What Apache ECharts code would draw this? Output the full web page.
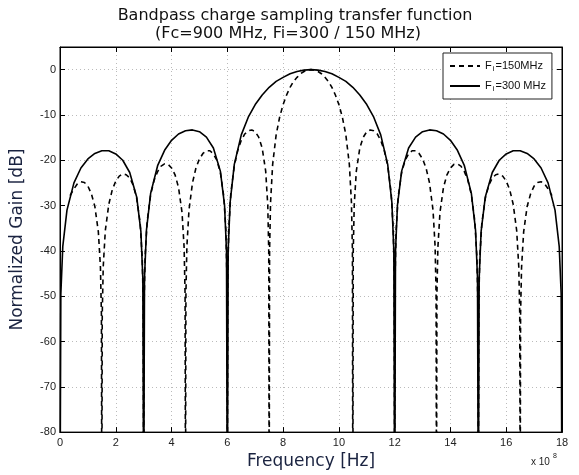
<!DOCTYPE html>
<html>
<head>
<meta charset="utf-8">
<script src="https://cdn.jsdelivr.net/npm/echarts@6/dist/echarts.min.js"></script>
<style>html,body{margin:0;padding:0;background:#fff;}#c{width:579px;height:475px;}</style>
</head>
<body>
<div id="c"></div>
<script>
// Frequency in units of 1e8 Hz, gain in dB
var xTicks = [0, 2, 4, 6, 8, 10, 12, 14, 16, 18];
var yTicks = [-80, -70, -60, -50, -40, -30, -20, -10, 0];

var freqSolid = [0,0.03,0.1,0.25,0.5,0.75,1,1.25,1.5,1.75,2,2.25,2.5,2.75,2.9,2.97,3,3.03,3.1,3.25,3.5,3.75,4,4.25,4.5,4.75,5,5.25,5.5,5.75,5.9,5.97,6,6.03,6.1,6.25,6.5,6.75,7,7.25,7.5,7.75,8,8.25,8.5,8.75,9,
  9.25,9.5,9.75,10,10.25,10.5,10.75,11,11.25,11.5,11.75,11.9,11.97,12,12.03,12.1,12.25,12.5,12.75,13,13.25,13.5,13.75,14,14.25,14.5,14.75,14.9,14.97,15,15.03,15.1,15.25,15.5,15.75,16,16.25,16.5,16.75,17,17.25,17.5,17.75,17.9,17.97,18];
var gainSolid = [-100,-49.5,-39.0,-31.0,-25.0,-21.7,-19.7,-18.5,-17.9,-17.9,-18.6,-20.0,-22.7,-28.1,-35.7,-46.1,-100,-46.0,-35.4,-27.3,-21.2,-17.8,-15.6,-14.2,-13.5,-13.3,-13.7,-14.9,-17.3,-22.4,-29.9,-40.1,-100,-39.9,-29.3,-20.9,-14.4,-10.5,-7.7,-5.6,-3.9,-2.6,-1.7,-0.9,-0.4,-0.1,0,
  -0.1,-0.4,-0.9,-1.7,-2.6,-3.9,-5.6,-7.7,-10.5,-14.4,-20.9,-29.3,-39.9,-100,-40.1,-29.9,-22.4,-17.3,-14.9,-13.7,-13.3,-13.5,-14.2,-15.6,-17.8,-21.2,-27.3,-35.4,-46.0,-100,-46.1,-35.7,-28.1,-22.7,-20.0,-18.6,-17.9,-17.9,-18.5,-19.7,-21.7,-25.0,-31.0,-39.0,-49.5,-100];

var freqDashed = [0.36,0.5,0.625,0.75,0.875,1,1.125,1.25,1.375,1.45,1.485,1.5,
  1.515,1.55,1.625,1.75,1.875,2,2.125,2.25,2.375,2.5,2.625,2.75,2.875,2.95,2.985,3,
  3.015,3.05,3.125,3.25,3.375,3.5,3.625,3.75,3.875,4,4.125,4.25,4.375,4.45,4.485,4.5,
  4.515,4.55,4.625,4.75,4.875,5,5.125,5.25,5.375,5.5,5.625,5.75,5.875,5.95,5.985,6,
  6.015,6.05,6.125,6.25,6.375,6.5,6.625,6.75,6.875,7,7.125,7.25,7.375,7.45,7.485,7.5,
  7.515,7.55,7.625,7.75,7.875,8,8.125,8.25,8.375,8.5,8.625,8.75,8.875,9,
  9.125,9.25,9.375,9.5,9.625,9.75,9.875,10,10.125,10.25,10.375,10.45,10.485,10.5,
  10.515,10.55,10.625,10.75,10.875,11,11.125,11.25,11.375,11.5,11.625,11.75,11.875,11.95,11.985,12,
  12.015,12.05,12.125,12.25,12.375,12.5,12.625,12.75,12.875,13,13.125,13.25,13.375,13.45,13.485,13.5,
  13.515,13.55,13.625,13.75,13.875,14,14.125,14.25,14.375,14.5,14.625,14.75,14.875,14.95,14.985,15,
  15.015,15.05,15.125,15.25,15.375,15.5,15.625,15.75,15.875,16,16.125,16.25,16.375,16.45,16.485,16.5,
  16.515,16.55,16.625,16.75,16.875,17,17.125,17.25,17.375,17.5,17.64];
var gainDashed = [-27.8,-26.3,-25.2,-24.75,-24.9,-25.7,-27.4,-30.2,-35.8,-43.6,-54.0,-100,
  -54.0,-43.5,-35.5,-29.7,-26.5,-24.6,-23.5,-23.0,-23.2,-23.9,-25.5,-28.4,-33.9,-41.7,-52.1,-100,
  -52.0,-41.5,-33.5,-27.6,-24.4,-22.5,-21.3,-20.8,-20.9,-21.7,-23.2,-26.0,-31.5,-39.2,-49.6,-100,
  -49.5,-39.0,-31.0,-25.0,-21.7,-19.7,-18.5,-17.9,-17.9,-18.6,-20.0,-22.7,-28.1,-35.7,-46.1,-100,
  -46.0,-35.4,-27.3,-21.2,-17.8,-15.6,-14.2,-13.5,-13.3,-13.7,-14.9,-17.3,-22.4,-29.9,-40.1,-100,
  -39.9,-29.3,-20.9,-14.4,-10.5,-7.7,-5.6,-3.9,-2.6,-1.7,-0.9,-0.4,-0.1,0,
  -0.1,-0.4,-0.9,-1.7,-2.6,-3.9,-5.6,-7.7,-10.5,-14.4,-20.9,-29.3,-39.9,-100,
  -40.1,-29.9,-22.4,-17.3,-14.9,-13.7,-13.3,-13.5,-14.2,-15.6,-17.8,-21.2,-27.3,-35.4,-46.0,-100,
  -46.1,-35.7,-28.1,-22.7,-20.0,-18.6,-17.9,-17.9,-18.5,-19.7,-21.7,-25.0,-31.0,-39.0,-49.5,-100,
  -49.6,-39.2,-31.5,-26.0,-23.2,-21.7,-20.9,-20.8,-21.3,-22.5,-24.4,-27.6,-33.5,-41.5,-52.0,-100,
  -52.1,-41.7,-33.9,-28.4,-25.5,-23.9,-23.2,-23.0,-23.5,-24.6,-26.5,-29.7,-35.5,-43.5,-54.0,-100,
  -54.0,-43.6,-35.8,-30.2,-27.4,-25.7,-24.9,-24.75,-25.2,-26.3,-27.8];

var seriesNames = ['Fi=150MHz', 'Fi=300 MHz'];

function pairs(xs, ys) {
  var out = [];
  var n = Math.min(xs.length, ys.length);
  for (var i = 0; i < n; i++) out.push([xs[i], ys[i]]);
  return out;
}

var chart = echarts.init(document.getElementById('c'), null, {renderer: 'canvas'});
var labelFont = {fontFamily: 'Liberation Sans', fontSize: 11, color: '#222'};
var nameFont = {fontFamily: 'DejaVu Sans', fontSize: 17, color: '#1a2340'};
var gridLine = {show: true, lineStyle: {color: '#bbb', type: [1, 3], width: 1}};
var titleFont = {fontFamily: 'DejaVu Sans', fontSize: 16, fontWeight: 'normal', color: '#111'};

chart.setOption({
  animation: false,
  backgroundColor: '#fff',
  title: [
    {text: 'Bandpass charge sampling transfer function', left: 290, top: 3, textAlign: 'center', textStyle: titleFont},
    {text: '(Fc=900 MHz, Fi=300 / 150 MHz)', left: 283, top: 21, textAlign: 'center', textStyle: titleFont}
  ],
  grid: {left: 60, right: 17, top: 47, bottom: 41, show: true, borderColor: '#000', borderWidth: 1, backgroundColor: '#fff'},
  legend: {
    orient: 'vertical', left: 443, top: 53, padding: [6, 6, 6, 6], itemGap: 6,
    itemWidth: 30, itemHeight: 14,
    borderColor: '#222', borderWidth: 1, backgroundColor: '#fff',
    itemStyle: {opacity: 0},
    data: seriesNames,
    formatter: function (name) {
      return name === seriesNames[0] ? '{a|F}{s|i}{a|=150MHz}' : '{a|F}{s|i}{a|=300 MHz}';
    },
    textStyle: {
      rich: {
        a: {fontFamily: 'Liberation Sans', fontSize: 11, color: '#111', lineHeight: 14},
        s: {fontFamily: 'Liberation Sans', fontSize: 8, color: '#111', padding: [6, 1, 0, 1], lineHeight: 14}
      }
    }
  },
  xAxis: [
    {type: 'value', min: 0, max: 18, interval: 2, position: 'bottom',
     name: 'Frequency [Hz]', nameLocation: 'middle', nameGap: 17, nameTextStyle: nameFont,
     axisLine: {show: true, onZero: false, lineStyle: {color: '#000'}},
     axisTick: {show: true, inside: true, length: 5, lineStyle: {color: '#000'}},
     axisLabel: Object.assign({margin: 5, formatter: function (v) { return xTicks.indexOf(v) >= 0 ? String(v) : ''; }}, labelFont),
     splitLine: gridLine},
    {type: 'value', min: 0, max: 18, interval: 2, position: 'top',
     axisLine: {show: true, onZero: false, lineStyle: {color: '#000'}},
     axisTick: {show: true, inside: true, length: 5, lineStyle: {color: '#000'}},
     axisLabel: {show: false}, splitLine: {show: false}}
  ],
  yAxis: [
    {type: 'value', min: -80, max: 5, interval: 10, position: 'left',
     name: 'Normalized Gain [dB]', nameLocation: 'middle', nameGap: 34, nameTextStyle: nameFont,
     axisLine: {show: true, onZero: false, lineStyle: {color: '#000'}},
     axisTick: {show: true, inside: true, length: 5, lineStyle: {color: '#000'}},
     axisLabel: Object.assign({margin: 4, showMaxLabel: false, formatter: function (v) { return yTicks.indexOf(v) >= 0 ? String(v) : ''; }}, labelFont),
     splitLine: gridLine},
    {type: 'value', min: -80, max: 5, interval: 10, position: 'right',
     axisLine: {show: true, onZero: false, lineStyle: {color: '#000'}},
     axisTick: {show: true, inside: true, length: 5, lineStyle: {color: '#000'}},
     axisLabel: {show: false}, splitLine: {show: false}}
  ],
  graphic: [
    {type: 'text', left: 531, top: 457, style: {text: 'x 10', fontFamily: 'Liberation Sans', fontSize: 10, fill: '#222'}},
    {type: 'text', left: 553, top: 453, style: {text: '8', fontFamily: 'Liberation Sans', fontSize: 7, fill: '#222'}}
  ],
  series: [
    {name: seriesNames[0], type: 'line', data: pairs(freqDashed, gainDashed), showSymbol: false, symbol: 'none',
     clip: true, lineStyle: {color: '#000', width: 1.6, type: [5, 4]}, itemStyle: {color: '#000'}, z: 3},
    {name: seriesNames[1], type: 'line', data: pairs(freqSolid, gainSolid), showSymbol: false, symbol: 'none',
     clip: true, lineStyle: {color: '#000', width: 1.6, type: 'solid'}, itemStyle: {color: '#000'}, z: 4}
  ]
});
</script>
</body>
</html>
